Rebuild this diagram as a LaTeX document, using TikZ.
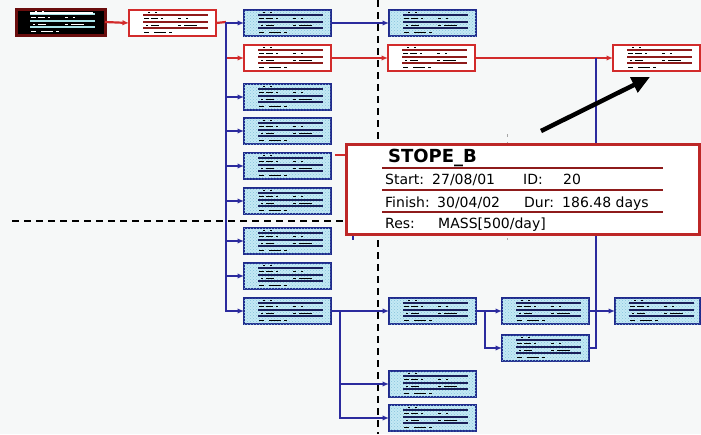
\documentclass[tikz,border=0pt]{standalone}
\usepackage{fontspec}
\setmainfont{DejaVu Sans}
\usetikzlibrary{arrows.meta,patterns}

\definecolor{bg}{HTML}{F6F8F8}
\definecolor{boxblue}{HTML}{C4E9F4}
\definecolor{boxdots}{HTML}{86C3DC}
\definecolor{navy}{HTML}{1F2A8C}
\definecolor{linkblue}{HTML}{2B2B9E}
\definecolor{cardred}{HTML}{D22B2B}
\definecolor{darkred}{HTML}{8E1B1B}
\definecolor{blackrim}{HTML}{6A0E0E}
\definecolor{inkline}{HTML}{1A1F5A}
\definecolor{paleline}{HTML}{A8E4E8}

\tikzset{
  card/.style={rectangle,anchor=north west,minimum width=87pt,minimum height=26pt,
    inner sep=0pt,outer sep=0pt},
  bluecard/.style={card,draw=navy,line width=1.6pt,fill=boxblue,
    postaction={pattern=crosshatch dots,pattern color=boxdots}},
  redcard/.style={card,draw=cardred,line width=2.5pt,fill=white},
  blackcard/.style={card,draw=blackrim,line width=3pt,fill=black},
  bluelink/.style={draw=linkblue,line width=1.3pt},
  redlink/.style={draw=cardred,line width=2.2pt},
  arrowend/.style={-{Latex[length=6.5pt,width=5.5pt]}},
  divider/.style={black,line width=1.5pt,dash pattern=on 7pt off 5pt},
  infotext/.style={anchor=base west,inner sep=0pt,font=\fontsize{14}{16}\selectfont},
}

% ruled rows and illegible entries inside a small task card
\newcommand\cardmarks[3]{%
  \begin{scope}[shift={(#1.north west)}]
    \foreach \yy in {5,12,18} \draw[#2,line width=1.1pt] (14,\yy) -- (79,\yy);
    \foreach \a/\b/\yy in {19/21/2.5,26/28/2.5,
        15/20/8.5,22/29/8.5,32/34/8.5,49/52/8.5,57/59/8.5,
        17/19/15,22/30/15,49/52/15,55/68/15,
        15/20/22,25/37/22,40/43/22}
      \draw[#3,line width=1pt] (\a,\yy) -- (\b,\yy);
  \end{scope}}

\begin{document}
\begin{tikzpicture}[x=1pt,y=-1pt]
  \useasboundingbox (0,0) rectangle (701,434);
  \fill[bg] (0,0) rectangle (701,434);

  % page break guides
  \draw[divider] (378,0) -- (378,434);
  \draw[divider] (12,221) -- (345,221);

  % task cards
  \node[blackcard,minimum width=89pt] (b0) at (16,9) {};
  \node[redcard] (r1) at (129,10) {};
  \node[bluecard] (a1) at (244,10) {};
  \node[redcard]  (a2) at (244,45) {};
  \node[bluecard] (a3) at (244,84) {};
  \node[bluecard] (a4) at (244,118) {};
  \node[bluecard] (a5) at (244,153) {};
  \node[bluecard] (a6) at (244,188) {};
  \node[bluecard] (a7) at (244,228) {};
  \node[bluecard] (a8) at (244,263) {};
  \node[bluecard] (a9) at (244,298) {};
  \node[bluecard] (b1) at (389,10) {};
  \node[redcard]  (b2) at (388,45) {};
  \node[redcard]  (d2) at (613,45) {};
  \node[bluecard] (b9) at (389,298) {};
  \node[bluecard] (b10) at (389,371) {};
  \node[bluecard] (b11) at (389,405) {};
  \node[bluecard] (c9) at (502,298) {};
  \node[bluecard] (c10) at (502,335) {};
  \node[bluecard,minimum width=85pt] (d9) at (615,298) {};

  \cardmarks{b0}{paleline}{white}
  \draw[white,line width=2.2pt] (b0.north west) ++(14,4) -- ++(63,0);
  \foreach \n in {r1,a2,b2,d2} {\cardmarks{\n}{darkred}{black}}
  \foreach \n in {a1,a3,a4,a5,a6,a7,a8,a9,b1,b9,b10,b11,c9,c10,d9} {\cardmarks{\n}{inkline}{black}}

  % junction points of the connectors
  \coordinate (j1) at (226,22);
  \coordinate (j9) at (340,311);
  \coordinate (j2) at (485,311);
  \coordinate (j3) at (596,58);

  % critical path
  \draw[redlink,arrowend] (b0.east) -- (r1.west);
  \draw[redlink] (r1.east) -- (j1);
  \draw[redlink,arrowend] (j1) |- (a2.west);
  \draw[redlink,arrowend] (a2.east) -- (b2.west);
  \draw[redlink,arrowend] (b2.east) -- (d2.west);

  % other links
  \foreach \n in {a1,a3,a4,a5,a6,a7,a8,a9} {\draw[bluelink,arrowend] (j1) |- (\n.west);}
  \draw[bluelink,arrowend] (a1.east) -- (b1.west);
  \draw[bluelink,arrowend] (a9.east) -- (b9.west);
  \draw[bluelink,arrowend] (j9) |- (b10.west);
  \draw[bluelink,arrowend] (j9) |- (b11.west);
  \draw[bluelink,arrowend] (b9.east) -- (c9.west);
  \draw[bluelink,arrowend] (j2) |- (c10.west);
  \draw[bluelink,arrowend] (c9.east) -- (d9.west);
  \draw[bluelink] (c10.east) -| (j3);

  % links passing under the detail box
  \draw[redlink] (335,155) -- (400,155);
  \draw[bluelink] (353,200) -- (353,240);
  \draw[gray!70,line width=0.7pt,dash pattern=on 3pt off 5pt] (507,134) -- (507,240);

  % detail box
  \node[rectangle,anchor=north west,minimum width=353pt,minimum height=90pt,inner sep=0pt,
        draw=cardred!90!black,line width=2.8pt,fill=white] (info) at (345,143) {};
  \foreach \yy in {168,190,212} \draw[darkred,line width=1.2pt] (382,\yy) -- (663,\yy);
  \node[anchor=base west,inner sep=0pt,font=\fontsize{18}{20}\selectfont\bfseries] (title) at (388,162) {STOPE\_B};
  \node[infotext] (s1) at (385,184) {Start:};
  \node[infotext] (s2) at (432,184) {27/08/01};
  \node[infotext] (s3) at (523,184) {ID:};
  \node[infotext] (s4) at (563,184) {20};
  \node[infotext] (f1) at (385,207) {Finish:};
  \node[infotext] (f2) at (437,207) {30/04/02};
  \node[infotext] (f3) at (524,207) {Dur:};
  \node[infotext] (f4) at (562,207) {186.48 days};
  \node[infotext] (r1t) at (385,228) {Res:};
  \node[infotext] (r2t) at (438,228) {MASS[500/day]};

  % pointer to the selected card
  \draw[black,line width=4.5pt,-{Triangle[length=18pt,width=16pt]}] (541,131) -- (650,77);
\end{tikzpicture}
\end{document}
